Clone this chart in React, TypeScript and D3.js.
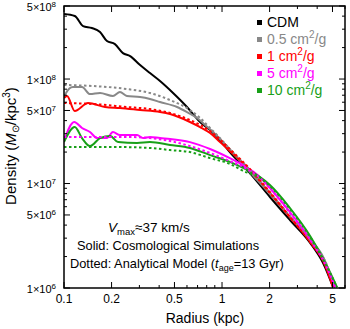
import React from 'react';
import * as d3 from 'd3';

const W = 350, H = 329;
const PL = 64, PR = 345, PT = 6, PB = 288;
const X_DOMAIN: [number, number] = [0.1, 6];
const Y_DOMAIN: [number, number] = [1e6, 5e8];
const FONT = "'Liberation Sans', Arial, Helvetica, sans-serif";

// CDM (solid)
const rCDM = [0.1, 0.117, 0.132, 0.150, 0.169, 0.187, 0.210, 0.236, 0.262, 0.303, 0.350, 0.405, 0.490, 0.600, 0.726, 0.840, 0.971, 1.12, 1.50, 2.01, 2.69, 3.61, 4.36, 5.04];
const dCDM = [4.19e8, 4.01e8, 3.21e8, 3.08e8, 2.82e8, 2.31e8, 2.16e8, 1.77e8, 1.66e8, 1.36e8, 1.14e8, 9.57e7, 7.35e7, 5.40e7, 3.88e7, 3.25e7, 2.61e7, 2.00e7, 1.26e7, 7.43e6, 4.47e6, 2.70e6, 1.73e6, 1.02e6];

// 0.5 cm2/g
const rS05 = [0.1, 0.103, 0.114, 0.130, 0.146, 0.169, 0.204, 0.226, 0.250, 0.303, 0.350, 0.405, 0.519, 0.600, 0.695, 0.781, 0.877, 1.0, 1.157, 1.50, 2.01, 2.69, 3.61, 4.49, 5.12];
const dS05 = [6.73e7, 7.35e7, 8.38e7, 8.38e7, 7.18e7, 7.35e7, 6.88e7, 7.51e7, 6.88e7, 6.73e7, 6.44e7, 6.02e7, 5.40e7, 4.83e7, 4.24e7, 3.63e7, 3.11e7, 2.55e7, 2.00e7, 1.29e7, 7.94e6, 4.78e6, 2.94e6, 1.81e6, 1.02e6];
const rA05 = [0.1, 0.153, 0.250, 0.350, 0.469, 0.627, 0.726, 0.840, 0.971, 1.12, 1.50, 2.01, 2.69, 3.61, 4.49, 5.19];
const dA05 = [8.77e7, 8.57e7, 8.02e7, 7.35e7, 6.29e7, 5.05e7, 4.24e7, 3.40e7, 2.72e7, 2.14e7, 1.35e7, 8.11e6, 4.89e6, 2.88e6, 1.81e6, 1.02e6];

// 1 cm2/g
const rS1 = [0.1, 0.1045, 0.117, 0.142, 0.182, 0.226, 0.303, 0.405, 0.469, 0.627, 0.726, 0.840, 0.971, 1.12, 1.50, 2.01, 2.69, 3.61, 4.49, 5.04];
const dS1 = [6.58e7, 6.88e7, 4.94e7, 5.89e7, 5.40e7, 5.28e7, 5.05e7, 4.83e7, 4.62e7, 3.88e7, 3.47e7, 3.04e7, 2.49e7, 2.05e7, 1.35e7, 8.11e6, 4.78e6, 2.76e6, 1.66e6, 1.02e6];
const rA1 = [0.1, 0.153, 0.250, 0.350, 0.469, 0.627, 0.840, 1.12, 1.50, 2.01, 2.69, 3.61, 4.49, 5.04];
const dA1 = [5.89e7, 5.77e7, 5.40e7, 5.16e7, 4.73e7, 4.05e7, 3.18e7, 2.14e7, 1.38e7, 8.29e6, 4.78e6, 2.76e6, 1.66e6, 1.02e6];

// 5 cm2/g
const rS5 = [0.1, 0.116, 0.130, 0.146, 0.162, 0.187, 0.204, 0.226, 0.290, 0.316, 0.350, 0.405, 0.469, 0.627, 0.840, 1.12, 1.36, 1.74, 2.01, 2.69, 3.61, 4.49, 5.19];
const dS5 = [2.55e7, 3.88e7, 3.40e7, 3.11e7, 2.72e7, 2.72e7, 3.11e7, 2.91e7, 2.91e7, 2.72e7, 2.79e7, 2.72e7, 2.67e7, 2.49e7, 2.14e7, 1.75e7, 1.50e7, 1.15e7, 9.06e6, 5.34e6, 2.94e6, 1.73e6, 1.02e6];
const rA5 = [0.1, 0.153, 0.250, 0.350, 0.469, 0.627, 0.840, 1.12, 1.40, 1.74, 2.01, 2.69, 3.61, 4.49, 5.19];
const dA5 = [2.79e7, 2.79e7, 2.79e7, 2.72e7, 2.55e7, 2.28e7, 1.96e7, 1.64e7, 1.41e7, 1.13e7, 9.06e6, 5.22e6, 2.88e6, 1.70e6, 1.02e6];

// 10 cm2/g
const rS10 = [0.1, 0.117, 0.130, 0.146, 0.169, 0.196, 0.220, 0.290, 0.350, 0.469, 0.627, 0.840, 1.12, 1.40, 1.74, 2.01, 2.69, 3.61, 4.62, 5.34];
const dS10 = [2.49e7, 3.47e7, 2.72e7, 2.28e7, 2.72e7, 2.85e7, 2.49e7, 2.44e7, 2.49e7, 2.34e7, 2.19e7, 1.87e7, 1.61e7, 1.38e7, 1.15e7, 9.67e6, 5.83e6, 3.15e6, 1.62e6, 1.02e6];
const rA10 = [0.1, 0.196, 0.350, 0.469, 0.627, 0.840, 1.12, 1.36, 1.74, 2.01, 2.69, 3.61, 4.62, 5.34];
const dA10 = [2.24e7, 2.24e7, 2.19e7, 2.09e7, 2.00e7, 1.75e7, 1.54e7, 1.32e7, 1.13e7, 9.46e6, 5.70e6, 3.08e6, 1.59e6, 1.02e6];

const legendLabels = ['CDM', '0.5 cm', '1 cm', '5 cm', '10 cm'];
const legendColors = ['#000000', '#888888', '#ff0000', '#ff00ff', '#18a018'];

const xMajor = [0.1, 0.2, 0.5, 1, 2, 5];
const xMajorLabels = ['0.1', '0.2', '0.5', '1', '2', '5'];
const xMinor = [0.3, 0.4, 0.6, 0.7, 0.8, 0.9, 3, 4, 6];
const yMajor = [1e6, 5e6, 1e7, 5e7, 1e8, 5e8];
const yMajorMant = ['1', '5', '1', '5', '1', '5'];
const yMajorExp = ['6', '6', '7', '7', '8', '8'];
const yMinor = [2e6, 3e6, 4e6, 6e6, 7e6, 8e6, 9e6, 2e7, 3e7, 4e7, 6e7, 7e7, 8e7, 9e7, 2e8, 3e8, 4e8];

const zip = (r: number[], d: number[]) => r.map((v, i) => [v, d[i]] as [number, number]);

export default function App() {
  const x = d3.scaleLog().domain(X_DOMAIN).range([PL, PR]);
  const y = d3.scaleLog().domain(Y_DOMAIN).range([PB, PT]);
  const line = d3.line<[number, number]>().x(d => x(d[0])).y(d => y(d[1])).curve(d3.curveMonotoneX);

  const solids = [
    { data: zip(rCDM, dCDM), color: legendColors[0] },
    { data: zip(rS05, dS05), color: legendColors[1] },
    { data: zip(rS1, dS1), color: legendColors[2] },
    { data: zip(rS5, dS5), color: legendColors[3] },
    { data: zip(rS10, dS10), color: legendColors[4] },
  ];
  const dotted = [
    { data: zip(rA05, dA05), color: legendColors[1] },
    { data: zip(rA1, dA1), color: legendColors[2] },
    { data: zip(rA5, dA5), color: legendColors[3] },
    { data: zip(rA10, dA10), color: legendColors[4] },
  ];

  const legendY0 = 27, legendDy = 17;

  return (
    <svg width={W} height={H} style={{ position: 'absolute', left: 0, top: 0, background: '#fff' }} fontFamily={FONT}>
      <defs>
        <clipPath id="plot"><rect x={PL} y={PT} width={PR - PL} height={PB - PT} /></clipPath>
      </defs>
      <rect x={0} y={0} width={W} height={H} fill="#fff" />
      <g clipPath="url(#plot)" fill="none">
        {solids.map((s, i) => (
          <path key={'s' + i} d={line(s.data) || ''} stroke={s.color} strokeWidth={2} strokeLinejoin="round" />
        ))}
        {dotted.map((s, i) => (
          <path key={'d' + i} d={line(s.data) || ''} stroke={s.color} strokeWidth={2} strokeDasharray="2.5,2.5" />
        ))}
      </g>
      {/* frame */}
      <rect x={PL} y={PT} width={PR - PL} height={PB - PT} fill="none" stroke="#000" strokeWidth={1.5} />
      {/* x ticks */}
      {xMajor.map((v, i) => (
        <g key={'xm' + i}>
          <line x1={x(v)} x2={x(v)} y1={PB} y2={PB - 6} stroke="#000" strokeWidth={1} />
          <line x1={x(v)} x2={x(v)} y1={PT} y2={PT + 6} stroke="#000" strokeWidth={1} />
          <text x={x(v)} y={303} textAnchor="middle" fontSize={12}>{xMajorLabels[i]}</text>
        </g>
      ))}
      {xMinor.map((v, i) => (
        <g key={'xn' + i}>
          <line x1={x(v)} x2={x(v)} y1={PB} y2={PB - 3} stroke="#000" strokeWidth={1} />
          <line x1={x(v)} x2={x(v)} y1={PT} y2={PT + 3} stroke="#000" strokeWidth={1} />
        </g>
      ))}
      {/* y ticks */}
      {yMajor.map((v, i) => (
        <g key={'ym' + i}>
          <line x1={PL} x2={PL + 6} y1={y(v)} y2={y(v)} stroke="#000" strokeWidth={1} />
          <line x1={PR} x2={PR - 6} y1={y(v)} y2={y(v)} stroke="#000" strokeWidth={1} />
          <text x={56} y={y(v) + 4.5} textAnchor="end" fontSize={11}>
            {yMajorMant[i]}×10<tspan fontSize={8} dy={-4}>{yMajorExp[i]}</tspan>
          </text>
        </g>
      ))}
      {yMinor.map((v, i) => (
        <g key={'yn' + i}>
          <line x1={PL} x2={PL + 3} y1={y(v)} y2={y(v)} stroke="#000" strokeWidth={1} />
          <line x1={PR} x2={PR - 3} y1={y(v)} y2={y(v)} stroke="#000" strokeWidth={1} />
        </g>
      ))}
      {/* axis titles */}
      <text x={205} y={323} textAnchor="middle" fontSize={14}>Radius (kpc)</text>
      <text transform="translate(16,146) rotate(-90)" textAnchor="middle" fontSize={15}>
        Density (<tspan fontStyle="italic">M</tspan><tspan fontSize={10} dy={3}>⊙</tspan><tspan dy={-3}>/kpc</tspan><tspan fontSize={10} dy={-6}>3</tspan><tspan dy={6}>)</tspan>
      </text>
      {/* legend */}
      {legendLabels.map((lab, i) => (
        <g key={'lg' + i}>
          <rect x={257} y={legendY0 + i * legendDy - 7} width={5} height={5} fill={legendColors[i]} />
          <text x={267} y={legendY0 + i * legendDy} fontSize={14} fill={legendColors[i]}>
            {lab}{i > 0 ? <><tspan fontSize={10} dy={-6}>2</tspan><tspan dy={6}>/g</tspan></> : null}
          </text>
        </g>
      ))}
      {/* annotations */}
      <text x={108} y={232} fontSize={13.5}>
        <tspan fontStyle="italic">V</tspan><tspan fontSize={9.5} dy={3}>max</tspan><tspan dy={-3}>≈37 km/s</tspan>
      </text>
      <text x={77} y={250} fontSize={12.8}>Solid: Cosmological Simulations</text>
      <text x={70} y={268} fontSize={12.8}>
        Dotted: Analytical Model (<tspan fontStyle="italic">t</tspan><tspan fontSize={9} dy={3}>age</tspan><tspan dy={-3}>=13 Gyr)</tspan>
      </text>
    </svg>
  );
}
